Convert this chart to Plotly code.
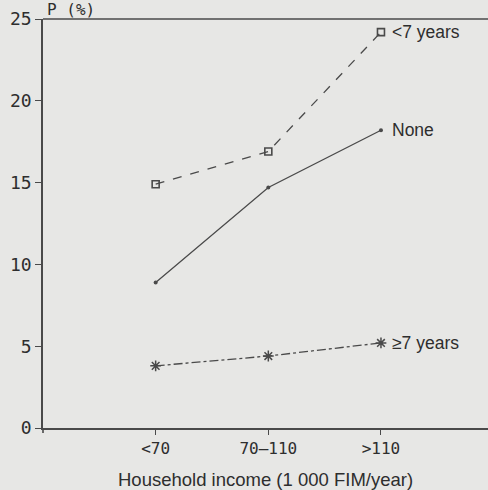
import plotly.graph_objects as go

categories = ["<70", "70\u2013110", ">110"]
under7 = [14.9, 16.9, 24.2]
none_vals = [8.9, 14.7, 18.2]
over7 = [3.8, 4.4, 5.2]
series_labels = ["<7 years", "None", "\u22657 years"]
y_ticks = [0, 5, 10, 15, 20, 25]

x_pos = list(range(len(categories)))
line_col = "#4a4a4a"
bg = "#e7e7e5"
text_col = "#2e2e2e"

fig = go.Figure()
fig.add_trace(go.Scatter(x=x_pos, y=under7, mode="lines+markers",
                         line=dict(color=line_col, width=1.3, dash="dash"),
                         marker=dict(symbol="square-open", size=7, color=line_col, line=dict(width=1.6))))
fig.add_trace(go.Scatter(x=x_pos, y=none_vals, mode="lines+markers",
                         line=dict(color=line_col, width=1.3),
                         marker=dict(symbol="circle", size=4, color=line_col)))
fig.add_trace(go.Scatter(x=x_pos, y=over7, mode="lines+markers",
                         line=dict(color=line_col, width=1.3, dash="dashdot"),
                         marker=dict(symbol="asterisk-open", size=9, color=line_col, line=dict(width=1.5, color=line_col))))

for vals, lab in zip([under7, none_vals, over7], series_labels):
    fig.add_annotation(x=x_pos[-1], y=vals[-1], xref="x", yref="y", text=lab,
                       showarrow=False, xanchor="left", yanchor="middle", xshift=9,
                       font=dict(family="Liberation Sans", size=17.5, color=text_col))

fig.add_annotation(x=0.0, y=1.0, xref="paper", yref="paper", text="P (%)",
                   showarrow=False, xanchor="left", yanchor="bottom", xshift=2, yshift=-2,
                   font=dict(family="DejaVu Sans Mono", size=16, color=text_col))
fig.add_annotation(x=0.5, y=-0.125, xref="paper", yref="paper",
                   text="Household income (1 000 FIM/year)", showarrow=False,
                   xanchor="center", yanchor="middle",
                   font=dict(family="Liberation Sans", size=18.5, color=text_col))

fig.add_shape(type="line", xref="paper", yref="paper", x0=0, x1=1, y0=1, y1=1,
              line=dict(color=line_col, width=1.6))
fig.add_shape(type="line", xref="paper", yref="paper", x0=0, x1=0, y0=0, y1=-0.012,
              line=dict(color=line_col, width=1.6))

fig.update_layout(
    width=488, height=490,
    margin=dict(l=43, r=0, t=19, b=62, pad=0),
    paper_bgcolor=bg, plot_bgcolor="rgba(0,0,0,0)",
    showlegend=False,
    xaxis=dict(range=[-1.0, 2.95], tickvals=x_pos, ticktext=categories,
               showgrid=False, zeroline=False, showline=True, linecolor=line_col, linewidth=1.6,
               mirror=False, ticks="outside", ticklen=5, tickcolor=line_col,
               tickfont=dict(family="DejaVu Sans Mono", size=16, color=text_col)),
    yaxis=dict(range=[0, 25], tickvals=y_ticks, mirror=False,
               showgrid=False, zeroline=False, showline=True, linecolor=line_col, linewidth=1.6,
               ticks="outside", ticklen=6, tickcolor=line_col,
               tickfont=dict(family="DejaVu Sans Mono", size=18, color=text_col)),
    modebar=dict(bgcolor="rgba(0,0,0,0)"),
)

fig.write_html("out.html", config={"displayModeBar": False})
